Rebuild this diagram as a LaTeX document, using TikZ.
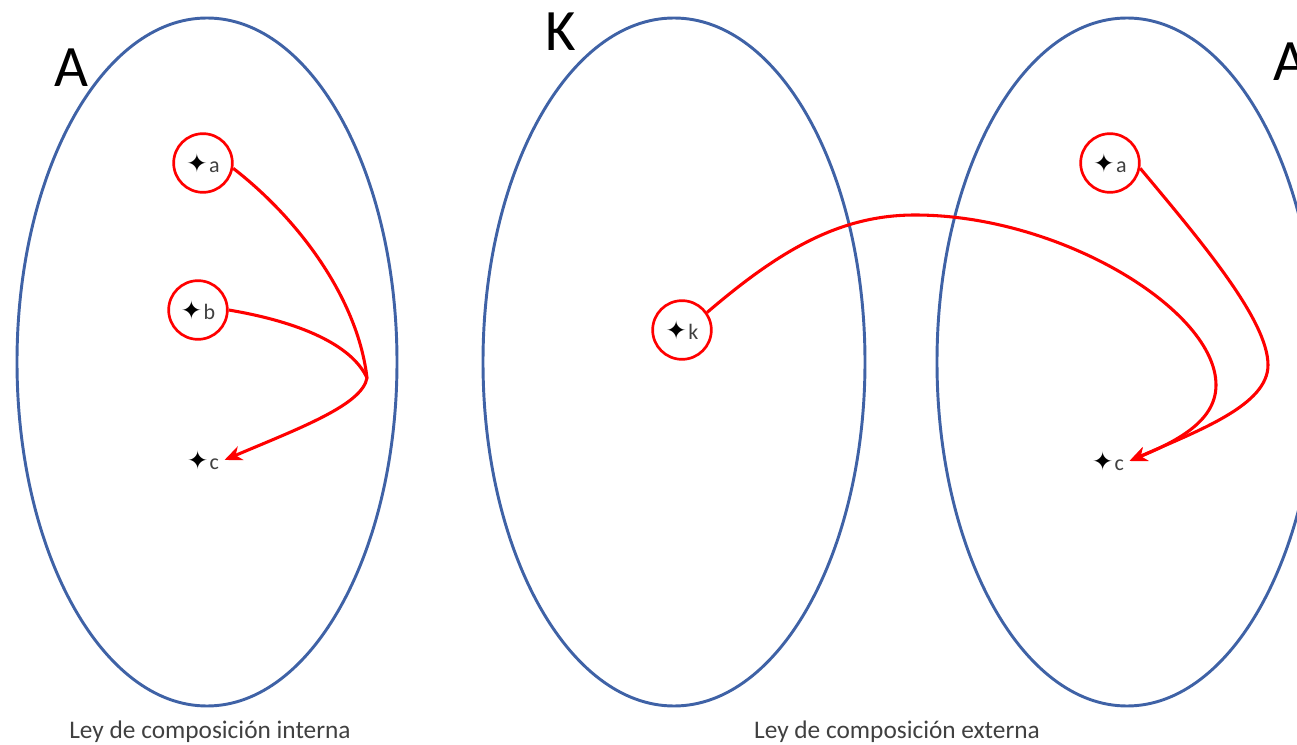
\documentclass[tikz,border=0pt]{standalone}
\usepackage{fontspec}
\setmainfont{Carlito}
\newfontfamily\symfont{DejaVu Sans}
\usetikzlibrary{arrows.meta}
\definecolor{setblue}{RGB}{63,98,166}
\definecolor{arrred}{RGB}{255,0,0}
\definecolor{labgrey}{RGB}{64,64,64}
\tikzset{
  setell/.style={draw=setblue, line width=2.2pt},
  ring/.style={circle, draw=arrred, line width=2pt, minimum size=44pt, inner sep=0pt},
  pt/.style={inner sep=0pt, font=\fontsize{16.5}{16.5}\selectfont, text=labgrey},
  ptc/.style={pt, inner xsep=4pt},
  bigl/.style={font=\fontsize{44}{44}\selectfont, text=black},
  caption/.style={font=\fontsize{19}{20}\selectfont, text=labgrey},
  rarr/.style={draw=arrred, line width=2.3pt, -{Stealth[length=13pt,width=11pt,inset=4pt]}},
  rline/.style={draw=arrred, line width=2.3pt},
}
\newcommand{\st}{{\symfont\fontsize{19}{19}\selectfont\textcolor{black}{✦}}\hspace{1pt}}
\begin{document}
\begin{tikzpicture}[x=0.75pt,y=-0.75pt]
\useasboundingbox (0,0) rectangle (1297,745);
% sets
\draw[setell] (207,362) ellipse [x radius=190, y radius=344];
\draw[setell] (674,362) ellipse [x radius=191, y radius=344];
\draw[setell] (1127,362) ellipse [x radius=190, y radius=344];
% set letters
\node[bigl] (lA) at (71,68) {A};
\node[bigl] (lK) at (561,32) {K};
\node[bigl] (lA2) at (1290,62) {A};
% left points
\node[ring, pt] (pa) at (203,163) {\st a};
\node[ring, pt] (pb) at (198,310) {\st b};
\node[ptc] (pc) at (203,460) {\st c};
% middle point
\node[ring, pt] (pk) at (682,330) {\st k};
% right points
\node[ring, pt] (qa) at (1110,163) {\st a};
\node[ptc] (qc) at (1108,461) {\st c};
% left arrows
\coordinate (cusp) at (367,378);
\draw[rline] (pb.east) .. controls (300,322) and (352,345) .. (cusp);
\draw[rarr] (pa.-10) .. controls (300,220) and (358,300) .. (cusp)
  .. controls (362,405) and (300,428) .. (pc.east);
% right arrows
\draw[rarr] (pk.35) .. controls (780,250) and (840,215) .. (915,215)
  .. controls (1060,215) and (1216,310) .. (1216,385)
  .. controls (1216,420) and (1180,440) .. (qc.east);
\draw[rarr] (qa.-10) .. controls (1200,240) and (1268,320) .. (1268,365)
  .. controls (1268,405) and (1200,430) .. (qc.east);
% captions
\node[caption] (capi) at (210,732) {Ley de composición interna};
\node[caption] (cape) at (897,732) {Ley de composición externa};
\end{tikzpicture}
\end{document}
